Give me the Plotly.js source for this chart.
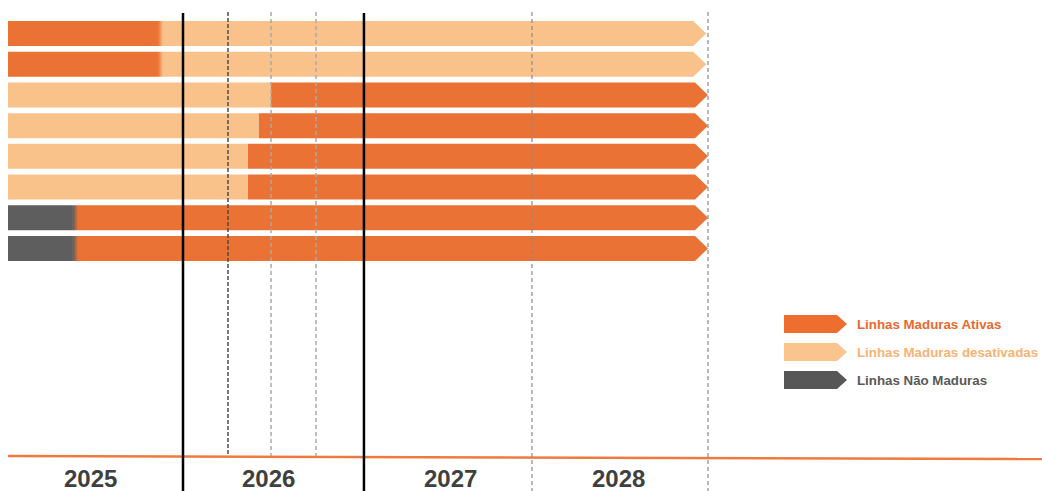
<!DOCTYPE html>
<html>
<head>
<meta charset="utf-8">
<script src="https://cdn.plot.ly/plotly-3.0.1.min.js"></script>
<style>html,body{margin:0;padding:0;background:#fff;}#chart{width:1042px;height:491px;}</style>
</head>
<body>
<div id="chart"></div>
<script>
// ---------- data (decimal years) ----------
const rowIds = [1, 2, 3, 4, 5, 6, 7, 8];
const barStart = [2025.0, 2025.0, 2025.0, 2025.0, 2025.0, 2025.0, 2025.0, 2025.0];
const splitPoint = [2025.857, 2025.857, 2026.503, 2026.434, 2026.371, 2026.371, 2025.371, 2025.371];
const barEnd = [2028.99, 2028.99, 2029.0, 2029.0, 2029.0, 2029.0, 2029.0, 2029.0];
const firstSegType = ['ativa', 'ativa', 'desativada', 'desativada', 'desativada', 'desativada', 'naoMadura', 'naoMadura'];
const secondSegType = ['desativada', 'desativada', 'ativa', 'ativa', 'ativa', 'ativa', 'ativa', 'ativa'];
const softEdge = [true, true, false, false, false, false, true, true];

const yearLabels = ['2025', '2026', '2027', '2028'];
const yearLabelPos = [2025.474, 2026.486, 2027.531, 2028.491];

const solidLines = [2026.0, 2027.034];
const darkDashedLines = [2026.257];
const lightDashedLines = [2026.503, 2026.76];
const midDashedLines = [2027.994, 2029.0];

const legendKeys = ['ativa', 'desativada', 'naoMadura'];
const legendNames = ['Linhas Maduras Ativas', 'Linhas Maduras desativadas', 'Linhas Não Maduras'];

// ---------- styles ----------
const W = 1042, H = 491, ML = 8;
const xRange = [2025, 2025 + (W - ML) / 175];
const unitsPerPx = (xRange[1] - xRange[0]) / (W - ML);
const rowPitch = 30.71, firstRowPx = 33.5;
const yRange = [(H - firstRowPx) / rowPitch, -firstRowPx / rowPitch];
const halfH = 12.5 / rowPitch;
const headLen = 13 * unitsPerPx;

const fillColors = { ativa: '#E97234', desativada: '#F9C28B', naoMadura: '#5E5E5E' };
const legendFill = { ativa: '#EE6E30', desativada: '#FAC48E', naoMadura: '#575757' };
const legendText = { ativa: '#E8692E', desativada: '#F8B273', naoMadura: '#595959' };

function py(p) { return 1 - p / H; }
function pxX(p) { return (p - ML) / (W - ML); }

const traces = [];
rowIds.forEach((id, i) => {
  const yc = i;
  const s = barStart[i], m = splitPoint[i], e = barEnd[i];
  const c1 = fillColors[firstSegType[i]], c2 = fillColors[secondSegType[i]];
  traces.push({
    type: 'scatter', mode: 'lines', fill: 'toself', hoverinfo: 'skip', showlegend: false,
    x: [s, m, m, s, s], y: [yc - halfH, yc - halfH, yc + halfH, yc + halfH, yc - halfH],
    fillcolor: c1, line: { width: 0, color: c1 }
  });
  const seg2 = {
    type: 'scatter', mode: 'lines', fill: 'toself', hoverinfo: 'skip', showlegend: false,
    x: [m, e - headLen, e, e - headLen, m, m], y: [yc - halfH, yc - halfH, yc, yc + halfH, yc + halfH, yc - halfH],
    fillcolor: c2, line: { width: 0, color: c2 }
  };
  if (softEdge[i]) {
    seg2.fillgradient = { type: 'horizontal', start: m, stop: m + 5 * unitsPerPx,
      colorscale: [[0, c1], [1, c2]] };
  }
  traces.push(seg2);
});

const shapes = [];
// bottom orange line
shapes.push({ type: 'line', xref: 'paper', yref: 'paper', x0: 0, x1: 1, y0: py(456), y1: py(459),
  line: { color: '#EF7A3E', width: 2.5 } });
solidLines.forEach(v => shapes.push({ type: 'line', xref: 'x', yref: 'paper', x0: v, x1: v, y0: py(13), y1: 0,
  line: { color: '#000000', width: 2.5 } }));
darkDashedLines.forEach(v => shapes.push({ type: 'line', xref: 'x', yref: 'paper', x0: v, x1: v, y0: py(12), y1: py(456),
  line: { color: '#4D4D4D', width: 1.5, dash: '4px,2px' } }));
lightDashedLines.forEach(v => shapes.push({ type: 'line', xref: 'x', yref: 'paper', x0: v, x1: v, y0: py(12), y1: py(456),
  line: { color: '#AAAAAA', width: 1.5, dash: '4px,3px' } }));
midDashedLines.forEach(v => shapes.push({ type: 'line', xref: 'x', yref: 'paper', x0: v, x1: v, y0: py(12), y1: 0,
  line: { color: '#8A8A8A', width: 1.2, dash: '4px,3px' } }));

// legend arrows
const legCenters = [324, 352, 380];
const annotations = [];
legendKeys.forEach((k, i) => {
  const c = legCenters[i], hh = 9;
  const x0 = pxX(784), xb = pxX(837), xt = pxX(847);
  const path = `M ${x0} ${py(c - hh)} L ${xb} ${py(c - hh)} L ${xt} ${py(c)} L ${xb} ${py(c + hh)} L ${x0} ${py(c + hh)} Z`;
  shapes.push({ type: 'path', xref: 'paper', yref: 'paper', path: path, fillcolor: legendFill[k], line: { width: 0 } });
  annotations.push({ xref: 'paper', yref: 'paper', x: pxX(855), y: py(c), xanchor: 'left', yanchor: 'middle',
    text: legendNames[i], showarrow: false,
    font: { family: 'Liberation Sans, Arial, sans-serif', size: 13.3, weight: 'bold', color: legendText[k] } });
});

yearLabels.forEach((t, i) => annotations.push({ xref: 'x', yref: 'paper', x: yearLabelPos[i], y: py(478.5),
  xanchor: 'center', yanchor: 'middle', text: t, showarrow: false,
  font: { family: 'Liberation Sans, Arial, sans-serif', size: 24, weight: 'bold', color: '#3F3F3F' } }));

const layout = {
  width: W, height: H,
  margin: { l: ML, r: 0, t: 0, b: 0, pad: 0 },
  paper_bgcolor: '#FFFFFF', plot_bgcolor: '#FFFFFF',
  showlegend: false,
  xaxis: { range: xRange, visible: false, fixedrange: true },
  yaxis: { range: yRange, visible: false, fixedrange: true },
  shapes: shapes, annotations: annotations
};
Plotly.newPlot('chart', traces, layout, { displayModeBar: false, staticPlot: true });
</script>
</body>
</html>
